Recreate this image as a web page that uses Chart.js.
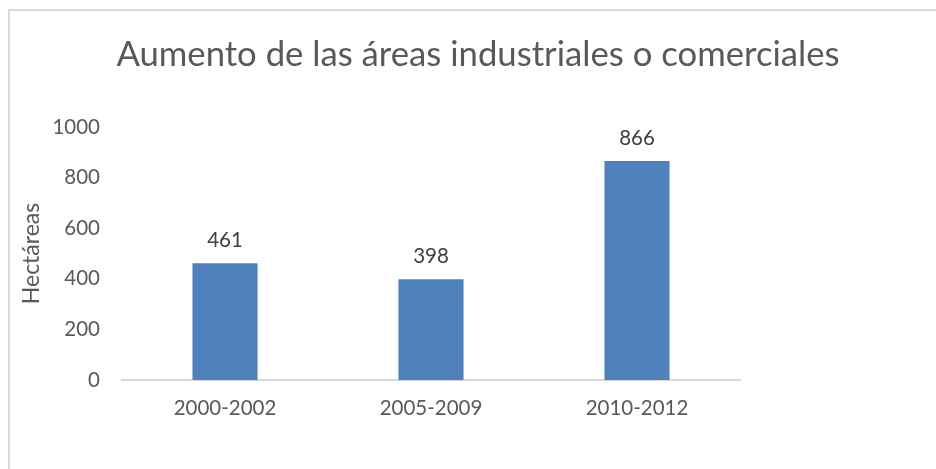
<!DOCTYPE html>
<html>
<head>
<meta charset="utf-8">
<script src="https://cdn.jsdelivr.net/npm/chart.js@4"></script>
<style>
  html, body { margin: 0; padding: 0; background: #fff; overflow: hidden; }
  #frame { position: absolute; left: 8px; top: 9px; width: 940px; height: 480px; border: 2px solid #d9d9d9; box-sizing: border-box; }
  #wrap { position: absolute; left: 10px; top: 11px; width: 926px; height: 458px; }
</style>
</head>
<body>
<div id="frame"></div>
<div id="wrap"><canvas id="c" width="926" height="458"></canvas></div>
<script>
const categories = ["2000-2002", "2005-2009", "2010-2012"];
const values = [461, 398, 866];
const yTicks = [0, 200, 400, 600, 800, 1000];
const chartTitle = "Aumento de las áreas industriales o comerciales";
const yTitle = "Hectáreas";

const FONT = "Lato, 'Open Sans', sans-serif";
const TEXT = "#595959";

const dataLabels = {
  id: "dataLabels",
  afterDatasetsDraw(chart) {
    const ctx = chart.ctx;
    const meta = chart.getDatasetMeta(0);
    ctx.save();
    ctx.font = "20.5px " + FONT;
    ctx.fillStyle = "#404040";
    ctx.textAlign = "center";
    ctx.textBaseline = "middle";
    meta.data.forEach((bar, i) => {
      ctx.fillText(String(values[i]), bar.x, bar.y - 23);
    });
    ctx.restore();
  }
};

const titleDraw = {
  id: "titleDraw",
  afterDraw(chart) {
    const ctx = chart.ctx;
    ctx.save();
    ctx.font = "34.7px " + FONT;
    ctx.fillStyle = TEXT;
    ctx.textAlign = "center";
    ctx.textBaseline = "middle";
    ctx.fillText(chartTitle, 468, 44);
    ctx.restore();
  }
};

new Chart(document.getElementById("c"), {
  type: "bar",
  data: {
    labels: categories,
    datasets: [{
      data: values,
      backgroundColor: "#4F81BD",
      borderWidth: 0,
      barPercentage: 0.316,
      categoryPercentage: 1
    }]
  },
  options: {
    responsive: false,
    animation: false,
    layout: { padding: { left: 0, right: 196, top: 116, bottom: 0 } },
    plugins: {
      legend: { display: false },
      tooltip: { enabled: false },
      title: { display: false }
    },
    scales: {
      x: {
        grid: { display: false, drawTicks: false },
        border: { display: true, color: "#d9d9d9", width: 2 },
        ticks: { color: TEXT, font: { family: FONT, size: 20.5 }, padding: 16 },
        afterFit(scale) { scale.height = 89; }
      },
      y: {
        min: 0,
        max: 1000,
        afterBuildTicks(scale) { scale.ticks = yTicks.map(v => ({ value: v })); },
        grid: { display: false, drawTicks: false },
        border: { display: false },
        ticks: { color: TEXT, font: { family: FONT, size: 20.5 }, padding: 22, callback: v => String(v) },
        title: {
          display: true,
          text: yTitle,
          color: TEXT,
          font: { family: FONT, size: 23, weight: "normal" },
          padding: { top: 8, bottom: 0 }
        },
        afterFit(scale) { scale.width = 112; }
      }
    }
  },
  plugins: [dataLabels, titleDraw]
});
</script>
</body>
</html>
